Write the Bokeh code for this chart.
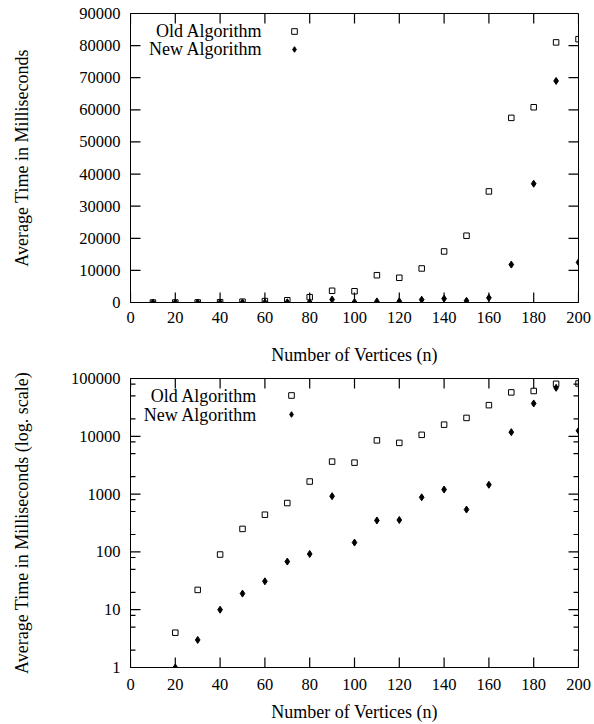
import math
from bokeh.plotting import figure
from bokeh.models import (Range1d, FixedTicker, PrintfTickFormatter, Legend, LegendItem, Label)
from bokeh.layouts import column
from bokeh.embed import file_html
from bokeh.resources import INLINE

# ---- data ----
n_vertices = [10, 20, 30, 40, 50, 60, 70, 80, 90, 100, 110, 120, 130, 140, 150, 160, 170, 180, 190, 200]
old_ms = [0, 4, 22, 90, 250, 440, 700, 1650, 3650, 3500, 8500, 7700, 10600, 15900, 20800, 34600,
          57500, 60800, 81000, 82000]
new_ms = [0, 1, 3, 10, 19, 31, 68, 92, 920, 145, 350, 356, 880, 1200, 540, 1450,
          11800, 37000, 69000, 12500]

x_ticks = [0, 20, 40, 60, 80, 100, 120, 140, 160, 180, 200]
y_ticks_lin = [0, 10000, 20000, 30000, 40000, 50000, 60000, 70000, 80000, 90000]
y_ticks_log = [1, 10, 100, 1000, 10000, 100000]
y_minor_log = [m * d for d in [1, 10, 100, 1000, 10000] for m in (2, 5, 8)]

legend_labels = ["Old Algorithm", "New Algorithm"]
x_title = "Number of Vertices (n)"
y_title_lin = "Average Time in Milliseconds"
y_title_log = "Average Time in Milliseconds (log. scale)"

FONT = "Liberation Serif"
TICK_FS = "16.5px"
TEXT_FS = "18px"
X_MIN, X_MAX = 0, 200
FRAME_W, FRAME_H = 448, 289      # frame size in pixels (from the borders below)
TICK_PX, MINOR_PX = 10, 5


def style_axis(ax, label_standoff, title_standoff):
    ax.major_tick_in = 0
    ax.major_tick_out = 0
    ax.minor_tick_in = 0
    ax.minor_tick_out = 0
    ax.axis_line_color = "black"
    ax.major_label_text_font = FONT
    ax.major_label_text_color = "black"
    ax.major_label_text_font_size = TICK_FS
    ax.major_label_standoff = label_standoff
    ax.axis_label_text_font = FONT
    ax.axis_label_text_font_size = TEXT_FS
    ax.axis_label_text_font_style = "normal"
    ax.axis_label_text_color = "black"
    ax.axis_label_standoff = title_standoff


def make_plot(log, height, top, stand, leg_loc, leg_spacing, lab_x, lab_y):
    kw = dict(width=594, height=height, output_backend="svg", toolbar_location=None,
              x_range=Range1d(X_MIN, X_MAX),
              min_border_left=130, min_border_right=16,
              min_border_top=top, min_border_bottom=30)
    if log:
        y_min, y_max = 1, 100000
        p = figure(y_axis_type="log", y_range=Range1d(y_min, y_max), **kw)
        yt = FixedTicker(ticks=y_ticks_log, minor_ticks=y_minor_log)
        yticks = y_ticks_log
    else:
        y_min, y_max = 0, 90000
        p = figure(y_range=Range1d(y_min, y_max), **kw)
        yt = FixedTicker(ticks=y_ticks_lin, minor_ticks=[])
        yticks = y_ticks_lin
    xt = FixedTicker(ticks=x_ticks, minor_ticks=[])
    p.xgrid.visible = False
    p.ygrid.visible = False
    p.outline_line_color = "black"
    p.outline_line_width = 1
    p.background_fill_color = "white"
    p.border_fill_color = "white"

    p.xaxis.ticker = xt
    p.yaxis.ticker = yt
    p.yaxis.formatter = PrintfTickFormatter(format="%d")
    p.xaxis.formatter = PrintfTickFormatter(format="%d")
    p.xaxis.axis_label = x_title
    p.yaxis.axis_label = y_title_log if log else y_title_lin
    xs_l, xs_t, ys_l, ys_t = stand
    style_axis(p.xaxis[0], xs_l, xs_t)
    style_axis(p.yaxis[0], ys_l, ys_t)

    # inward tick marks on all four frame sides (tick length converted to data units)
    dx = TICK_PX * (X_MAX - X_MIN) / FRAME_W
    if log:
        up = lambda v, px: v * 10 ** (px * math.log10(y_max / y_min) / FRAME_H)
        down = lambda v, px: v / 10 ** (px * math.log10(y_max / y_min) / FRAME_H)
    else:
        up = lambda v, px: v + px * (y_max - y_min) / FRAME_H
        down = lambda v, px: v - px * (y_max - y_min) / FRAME_H
    seg_x0, seg_y0, seg_x1, seg_y1 = [], [], [], []
    for t in x_ticks:
        seg_x0 += [t, t]
        seg_x1 += [t, t]
        seg_y0 += [y_min, y_max]
        seg_y1 += [up(y_min, TICK_PX), down(y_max, TICK_PX)]
    for t in yticks:
        seg_x0 += [X_MIN, X_MAX]
        seg_x1 += [X_MIN + dx, X_MAX - dx]
        seg_y0 += [t, t]
        seg_y1 += [t, t]
    if log:
        dxm = MINOR_PX * (X_MAX - X_MIN) / FRAME_W
        for t in y_minor_log:
            seg_x0 += [X_MIN, X_MAX]
            seg_x1 += [X_MIN + dxm, X_MAX - dxm]
            seg_y0 += [t, t]
            seg_y1 += [t, t]
    p.segment(seg_x0, seg_y0, seg_x1, seg_y1, line_color="black", line_width=1.2)

    if log:
        xo = [x for x, v in zip(n_vertices, old_ms) if v > 0]
        yo = [v for v in old_ms if v > 0]
        xn = [x for x, v in zip(n_vertices, new_ms) if v > 0]
        yn = [v for v in new_ms if v > 0]
    else:
        xo, yo, xn, yn = n_vertices, old_ms, n_vertices, new_ms
    r_old = p.scatter(xo, yo, marker="square", size=5.5, fill_color=None,
                      line_color="black", line_width=1)
    r_new = p.scatter(xn, yn, marker="diamond", size=7,
                      fill_color="black", line_color="black", line_width=1)

    # legend: markers from the renderers, texts placed to their left
    leg = Legend(items=[LegendItem(label="", renderers=[r_old]),
                        LegendItem(label="", renderers=[r_new])],
                 location=leg_loc, padding=0, margin=0, spacing=leg_spacing,
                 glyph_width=14, glyph_height=14, label_width=0, label_height=14,
                 label_standoff=0, label_text_font_size="1px", label_text_color=None,
                 border_line_color=None, background_fill_alpha=0)
    p.add_layout(leg)
    for txt, yv in zip(legend_labels, lab_y):
        p.add_layout(Label(x=lab_x, y=yv, text=txt, text_align="right",
                           text_baseline="middle", text_font=FONT,
                           text_font_size=TEXT_FS, text_color="black"))
    return p


p1 = make_plot(False, 367, 13, (9, 19, 10, 44), (157, 246), 4,
               58.9, [84600, 78790])
p2 = make_plot(True, 357, 11, (11, 9, 10, 36), (154, 246), 5,
               56.6, [48850, 23080])

layout = column(p1, p2, spacing=0)
open("out.html", "w").write(file_html(layout, INLINE))
